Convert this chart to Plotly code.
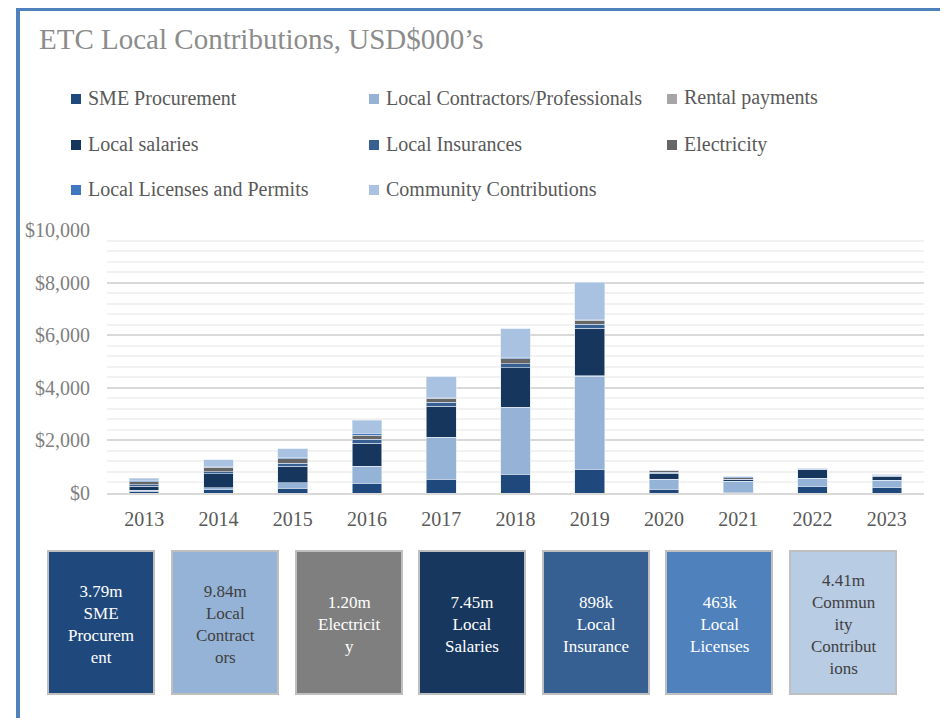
"""ETC local contributions chart (stacked bars + summary boxes)."""

import plotly.graph_objects as go

# ---- data (USD $000's) ----
years = ["2013", "2014", "2015", "2016", "2017", "2018", "2019",
         "2020", "2021", "2022", "2023"]

sme_procurement = [60, 127, 190, 367, 519, 709, 899, 139, 38, 240, 203]
local_contractors = [40, 76, 203, 646, 1582, 2532, 3544, 392, 418, 316, 278]
rental_payments = [0, 0, 0, 10, 15, 20, 20, 0, 0, 0, 0]
local_salaries = [150, 532, 620, 873, 1190, 1493, 1798, 215, 50, 329, 165]
local_insurances = [60, 76, 114, 139, 139, 152, 152, 45, 20, 25, 20]
electricity = [110, 165, 177, 165, 165, 203, 152, 50, 63, 10, 10]
local_licenses = [70, 50, 38, 76, 38, 51, 40, 10, 38, 15, 15]
community = [70, 240, 342, 481, 772, 1076, 1405, 0, 0, 0, 0]

series_names = [
    "SME Procurement", "Local Contractors/Professionals", "Rental payments",
    "Local salaries", "Local Insurances", "Electricity",
    "Local Licenses and Permits", "Community Contributions",
]
series_values = [
    sme_procurement, local_contractors, rental_payments, local_salaries,
    local_insurances, electricity, local_licenses, community,
]
series_colors = [
    "#1F497D", "#95B3D7", "#A6A6A6", "#17365D",
    "#366092", "#666666", "#3F78C0", "#A9C2E1",
]

# summary boxes under the chart
box_labels = [
    "3.79m<br>SME<br>Procurem<br>ent",
    "9.84m<br>Local<br>Contract<br>ors",
    "1.20m<br>Electricit<br>y",
    "7.45m<br>Local<br>Salaries",
    "898k<br>Local<br>Insurance",
    "463k<br>Local<br>Licenses",
    "4.41m<br>Commun<br>ity<br>Contribut<br>ions",
]
box_colors = ["#1F497D", "#95B3D7", "#7F7F7F", "#17375E",
              "#366092", "#4F81BD", "#B8CCE4"]
box_text_colors = ["white", "#404040", "white", "white",
                   "white", "white", "#404040"]

FONT = "Liberation Serif"
OFF = 8  # page body margin around the plot div
W, H = 940, 710
L, R, T, B = 99, 24, 222, 225
PW, PH = W - L - R, H - T - B


def px(x):
    """page pixel x -> paper x"""
    return (x - OFF - L) / PW


def py(y):
    """page pixel y -> paper y"""
    return (H - B - (y - OFF)) / PH


fig = go.Figure()

for name, vals, color in zip(series_names, series_values, series_colors):
    fig.add_trace(go.Bar(
        x=years,
        y=vals,
        name=name,
        marker=dict(color=color, line=dict(color="#DCE6F2", width=0.6)),
        showlegend=False,
    ))

shapes = []
annotations = []

# outer frame
shapes.append(dict(type="rect", xref="paper", yref="paper",
                   x0=px(18), x1=px(942), y0=py(9), y1=py(745),
                   line=dict(color="#4F81BD", width=4), fillcolor="rgba(0,0,0,0)"))

# title
annotations.append(dict(
    text="ETC Local Contributions, USD$000’s",
    xref="paper", yref="paper", x=px(37), y=py(39),
    xanchor="left", yanchor="middle", showarrow=False,
    font=dict(family=FONT, size=29, color="#8C8C8C"),
))

# legend drawn by hand (3 columns, row-wise like Excel)
col_x = [71, 369, 667]
row_y = [98, 144, 189]
for i, (name, color) in enumerate(zip(series_names, series_colors)):
    cx = col_x[i % 3]
    cy = row_y[i // 3]
    shapes.append(dict(type="rect", xref="paper", yref="paper",
                       x0=px(cx), x1=px(cx + 10), y0=py(cy - 4), y1=py(cy + 6),
                       line=dict(width=0), fillcolor=color))
    annotations.append(dict(
        text=name, xref="paper", yref="paper", x=px(cx + 15), y=py(cy),
        xanchor="left", yanchor="middle", showarrow=False,
        font=dict(family=FONT, size=20, color="#595959"),
    ))

# summary boxes
box_left = [48, 172, 296, 419, 543, 666, 790]
for x0, label, color, tcolor in zip(box_left, box_labels, box_colors, box_text_colors):
    shapes.append(dict(type="rect", xref="paper", yref="paper",
                       x0=px(x0), x1=px(x0 + 106), y0=py(551), y1=py(694),
                       line=dict(color="#BFBFBF", width=2), fillcolor=color))
    annotations.append(dict(
        text=label, xref="paper", yref="paper", x=px(x0 + 53), y=py(624),
        xanchor="center", yanchor="middle", showarrow=False, align="center",
        font=dict(family=FONT, size=17, color=tcolor),
    ))

fig.update_layout(
    barmode="stack",
    bargap=0.6,
    width=W,
    height=H,
    margin=dict(l=L, r=R, t=T, b=B),
    paper_bgcolor="white",
    plot_bgcolor="white",
    shapes=shapes,
    annotations=annotations,
    font=dict(family=FONT),
)

fig.update_xaxes(
    type="category",
    showgrid=False,
    showline=True,
    linecolor="#D9D9D9",
    linewidth=2,
    ticks="",
    ticklabelstandoff=7,
    tickfont=dict(family=FONT, size=20, color="#595959"),
)

fig.update_yaxes(
    range=[0, 10000],
    tickvals=[0, 2000, 4000, 6000, 8000, 10000],
    tickformat="$,",
    showgrid=True,
    gridcolor="#D9D9D9",
    gridwidth=1.5,
    zeroline=False,
    minor=dict(dtick=400, showgrid=True, gridcolor="#F2F2F2", gridwidth=1.5),
    ticks="",
    ticklabelstandoff=16,
    tickfont=dict(family=FONT, size=20, color="#7F7F7F"),
)

fig.write_html("out.html")
